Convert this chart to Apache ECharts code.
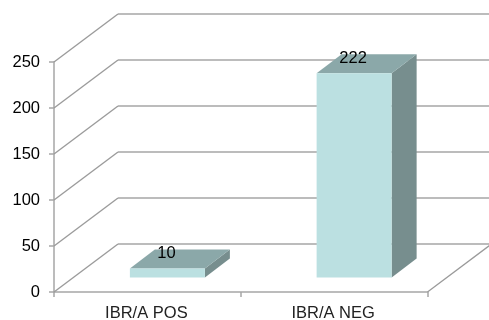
<!DOCTYPE html>
<html>
<head>
<meta charset="utf-8">
<style>html,body{margin:0;padding:0;background:#fff}#chart{width:489px;height:320px}</style>
<script src="https://cdn.jsdelivr.net/npm/echarts@6/dist/echarts.min.js"></script>
</head>
<body>
<div id="chart"></div>
<script>
// Chart content
const categories = ['IBR/A POS', 'IBR/A NEG'];
const counts = [10, 222];
const valueTicks = [0, 50, 100, 150, 200, 250];

// Oblique projection used for the pseudo-3D look (pixels)
const wallDepth = { x: 64, y: -48 };
const barInset = { x: 20, y: -14.4 };
const barDepth = { x: 25, y: -19 };
const barWidth = 75;

const faceColor = '#bbe0e1';
const topColor = '#8ba8a9';
const sideColor = '#778e8e';
const lineColor = '#a6a6a6';

// Back wall gridlines, each joined to the value axis by a diagonal
function renderWall(params, api) {
  const v = api.value(0);
  const y = api.coord([0, v])[1];
  const x0 = params.coordSys.x;
  const backX = x0 + wallDepth.x;
  const backY = y + wallDepth.y;
  const children = [
    { type: 'polyline', shape: { points: [[x0, y], [backX, backY]] },
      style: { stroke: '#9a9a9a', lineWidth: 1.3, fill: null } },
    { type: 'line', shape: { x1: backX, y1: backY, x2: 489, y2: backY },
      style: { stroke: lineColor, lineWidth: 1.5 } }
  ];
  if (v === 0) {
    // Right edge of the floor
    const xr = x0 + params.coordSys.width;
    children.push({ type: 'line',
      shape: { x1: xr, y1: y, x2: xr + wallDepth.x, y2: backY },
      style: { stroke: '#9a9a9a', lineWidth: 1.3 } });
  }
  return { type: 'group', children };
}

// Box with front, top and side faces, standing on the floor
function renderBox(params, api) {
  const v = api.value(1);
  const base = api.coord([api.value(0), 0]);
  const top = api.coord([api.value(0), v]);
  const l = base[0] + barInset.x - barWidth / 2;
  const r = l + barWidth;
  const b = base[1] + barInset.y;
  const t = top[1] + barInset.y;
  const dx = barDepth.x, dy = barDepth.y;
  return { type: 'group', children: [
    { type: 'polygon', shape: { points: [[r, t], [r + dx, t + dy], [r + dx, b + dy], [r, b]] },
      style: { fill: sideColor } },
    { type: 'polygon', shape: { points: [[l, t], [l + dx, t + dy], [r + dx, t + dy], [r, t]] },
      style: { fill: topColor } },
    { type: 'rect', shape: { x: l, y: t, width: barWidth, height: b - t },
      style: { fill: faceColor } },
    { type: 'text', z2: 10, style: { text: String(v), x: (l + r) / 2 - 1, y: t - 15,
        align: 'center', verticalAlign: 'middle',
        font: '16.5px "Liberation Sans", Arial, sans-serif', fill: '#000' } }
  ] };
}

const chart = echarts.init(document.getElementById('chart'), null, { renderer: 'canvas' });
chart.setOption({
  animation: false,
  backgroundColor: '#fff',
  grid: { left: 54, top: 62, width: 373.5, height: 230, outerBoundsMode: 'none' },
  xAxis: {
    type: 'category',
    data: categories,
    axisLine: { lineStyle: { color: lineColor, width: 1.5 } },
    axisTick: { show: true, length: 5, lineStyle: { color: lineColor, width: 1.5 } },
    axisLabel: { color: '#222', fontSize: 16.5, fontFamily: 'Liberation Sans', margin: 12, padding: [1, 2, 0, 0] }
  },
  yAxis: {
    type: 'value',
    min: 0,
    max: 250,
    interval: 50,
    axisLine: { show: true, lineStyle: { color: lineColor, width: 1.5 } },
    axisTick: { show: true, length: 5, lineStyle: { color: lineColor, width: 1.5 } },
    splitLine: { show: false },
    axisLabel: { color: '#000', fontSize: 16.5, fontFamily: 'Liberation Sans', margin: 14, padding: [4, 0, 0, 0] }
  },
  series: [
    { type: 'custom', name: 'walls', silent: true, z: 1, clip: false,
      renderItem: renderWall, data: valueTicks.map(v => [v]),
      encode: { y: 0 } },
    { type: 'custom', name: 'count', z: 3, clip: false,
      renderItem: renderBox, data: counts.map((c, i) => [i, c]),
      encode: { x: 0, y: 1 } }
  ]
});
</script>
</body>
</html>
